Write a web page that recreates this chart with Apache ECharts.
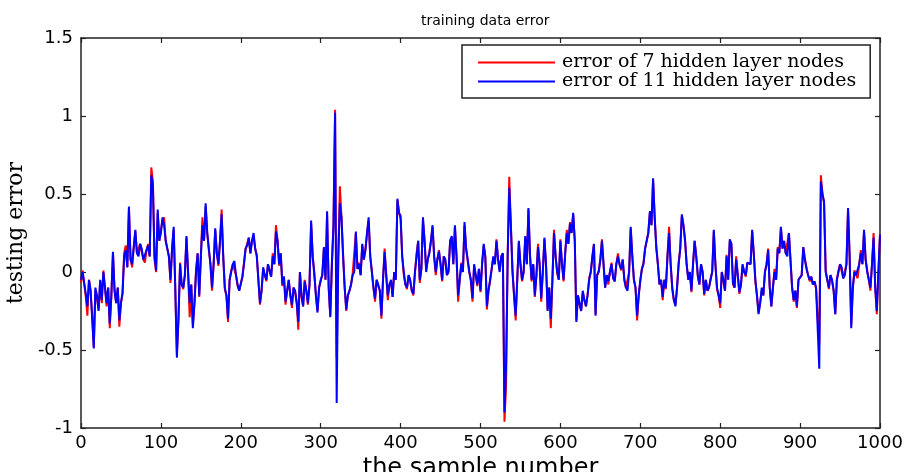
<!DOCTYPE html>
<html>
<head>
<meta charset="utf-8">
<script src="https://cdn.jsdelivr.net/npm/echarts@6/dist/echarts.min.js"></script>
<style>
html,body{margin:0;padding:0;background:#fff;}
#chart{width:909px;height:472px;}
</style>
</head>
<body>
<div id="chart"></div>
<script>
// sample numbers: every second sample, 0..1000
const sampleNo = Array.from({length: 501}, (_, i) => 2 * i);

// error of 11 hidden layer nodes (blue), values read at samples 0,2,4,...,1000
const err11 = [
-0.05,0.0,0.01,-0.14,-0.22,-0.05,-0.12,-0.3,-0.49,-0.1,
-0.15,-0.25,-0.05,-0.18,0.0,-0.1,-0.2,-0.1,-0.33,-0.15,
0.13,-0.12,-0.2,-0.1,-0.31,-0.2,-0.13,0.1,0.14,0.03,
0.42,0.08,0.05,0.16,0.27,0.12,0.1,0.18,0.15,0.08,
0.08,0.14,0.17,0.1,0.62,0.55,0.1,0.01,0.4,0.2,
0.25,0.35,0.3,0.2,0.2,0.1,-0.05,0.15,0.29,-0.1,
-0.55,-0.3,0.05,-0.08,-0.1,-0.02,0.23,0.0,-0.2,-0.08,
-0.36,-0.2,0.0,0.12,-0.15,0.1,0.3,0.2,0.44,0.25,
0.15,0.05,-0.1,0.05,0.28,0.12,0.05,0.2,0.37,0.1,
-0.1,-0.15,-0.3,-0.05,0.0,0.05,0.07,-0.02,-0.08,-0.12,
-0.12,-0.03,0.05,0.15,0.17,0.22,0.12,0.2,0.25,0.15,
0.1,-0.05,-0.2,-0.12,0.03,-0.02,-0.05,0.05,0.04,-0.03,
0.1,0.05,0.26,0.2,0.05,0.12,-0.08,-0.03,-0.19,-0.12,
-0.05,-0.15,-0.21,-0.1,-0.12,-0.2,-0.32,0.0,-0.15,-0.22,
-0.06,-0.12,-0.2,-0.08,0.33,0.1,-0.02,-0.15,-0.26,-0.1,
-0.05,-0.02,0.16,-0.05,0.39,-0.1,-0.29,0.05,0.3,1.02,
-0.84,0.1,0.44,0.35,0.1,-0.1,-0.24,-0.15,-0.12,-0.08,
-0.02,0.0,0.26,0.02,0.05,-0.02,0.18,0.08,0.14,0.25,
0.35,0.1,0.0,-0.1,-0.17,-0.05,-0.08,-0.12,-0.28,-0.05,
0.13,-0.02,-0.15,-0.08,-0.05,-0.16,0.0,-0.05,0.47,0.38,
0.36,0.1,0.0,-0.08,-0.1,-0.02,-0.05,-0.12,-0.14,0.0,
0.1,0.2,-0.05,0.02,0.35,0.2,0.0,0.08,0.12,0.2,
0.3,0.1,0.0,0.08,0.13,0.05,-0.05,0.1,0.08,-0.02,
0.0,0.2,0.23,0.05,0.3,0.1,-0.15,-0.05,0.05,0.0,
0.32,0.15,0.08,0.0,-0.05,-0.17,0.05,-0.02,-0.08,0.02,
-0.12,0.05,0.18,0.1,-0.22,-0.12,-0.05,0.02,0.1,0.05,
0.2,0.08,0.0,0.1,0.12,-0.9,-0.6,0.1,0.54,0.3,
0.0,-0.15,-0.28,-0.05,0.2,0.05,-0.05,0.0,0.23,0.05,
0.41,0.1,-0.05,0.05,-0.15,-0.02,0.16,0.05,-0.17,0.0,
0.22,0.05,-0.25,-0.1,-0.3,-0.05,0.25,0.1,0.0,-0.05,
0.2,0.05,-0.05,0.12,0.25,0.18,0.31,0.25,0.38,0.2,
-0.32,-0.15,-0.2,-0.25,-0.12,-0.18,-0.22,-0.15,-0.05,0.0,
0.1,0.18,-0.28,-0.02,0.0,0.08,0.2,0.05,-0.1,-0.02,
-0.06,0.0,0.05,-0.04,-0.06,0.05,0.1,0.05,0.02,0.08,
-0.05,-0.1,-0.12,0.0,0.29,0.1,-0.05,-0.1,-0.28,-0.15,
-0.05,0.02,0.05,0.15,0.16,0.25,0.39,0.3,0.6,0.35,
0.15,0.05,-0.08,-0.05,-0.16,-0.05,-0.1,0.1,0.25,0.05,
-0.1,-0.18,-0.22,-0.1,0.05,0.15,0.37,0.3,0.2,0.05,
-0.05,0.0,-0.12,0.05,0.2,0.1,-0.02,-0.08,0.05,0.0,
-0.14,-0.05,-0.12,-0.1,-0.05,0.0,0.27,0.05,-0.1,-0.15,
-0.2,0.0,-0.05,-0.12,0.1,-0.05,0.21,0.18,-0.07,-0.1,
0.08,-0.02,-0.13,-0.08,0.05,0.0,-0.02,0.06,0.07,0.05,
0.27,0.12,-0.05,-0.15,-0.27,-0.2,-0.1,-0.15,0.0,0.05,
0.14,-0.1,-0.22,-0.1,0.0,-0.05,0.15,0.12,0.29,0.15,
0.2,0.12,0.1,0.25,0.25,-0.1,-0.18,-0.12,-0.22,-0.05,
-0.04,-0.02,0.16,0.08,0.02,-0.02,-0.05,-0.03,-0.08,-0.06,
-0.1,-0.1,-0.62,0.58,0.5,0.45,0.0,-0.05,-0.1,-0.02,
-0.05,-0.12,-0.27,-0.05,0.0,0.05,0.03,-0.04,-0.02,0.05,
0.41,0.1,-0.36,-0.1,0.0,-0.02,-0.03,0.05,0.12,0.05,
0.27,0.08,0.0,-0.05,-0.1,0.05,0.22,-0.1,-0.25,0.0,
0.24];

// error of 7 hidden layer nodes (red), same samples
const err7 = [
-0.07,0.01,0.02,-0.16,-0.28,-0.05,-0.12,-0.28,-0.48,-0.12,
-0.17,-0.24,-0.06,-0.2,0.01,-0.1,-0.22,-0.1,-0.36,-0.15,
0.12,-0.12,-0.2,-0.1,-0.35,-0.2,-0.14,0.12,0.17,0.03,
0.41,0.08,0.03,0.16,0.26,0.12,0.12,0.18,0.13,0.08,
0.06,0.14,0.18,0.1,0.67,0.58,0.08,0.0,0.38,0.2,
0.27,0.33,0.35,0.2,0.19,0.1,-0.07,0.15,0.27,-0.12,
-0.52,-0.3,0.06,-0.08,-0.11,-0.02,0.22,0.0,-0.29,-0.08,
-0.34,-0.2,0.02,0.12,-0.16,0.1,0.35,0.2,0.42,0.25,
0.14,0.05,-0.12,0.05,0.27,0.12,0.04,0.2,0.4,0.1,
-0.11,-0.15,-0.32,-0.05,0.01,0.05,0.06,-0.02,-0.09,-0.12,
-0.12,-0.03,0.06,0.15,0.18,0.22,0.12,0.2,0.23,0.15,
0.11,-0.05,-0.21,-0.12,0.02,-0.02,-0.06,0.05,0.06,-0.03,
0.12,0.05,0.3,0.2,0.04,0.12,-0.09,-0.03,-0.21,-0.12,
-0.05,-0.15,-0.23,-0.1,-0.13,-0.2,-0.37,0.0,-0.16,-0.22,
-0.05,-0.12,-0.21,-0.08,0.31,0.1,0.0,-0.15,-0.25,-0.1,
-0.06,-0.02,0.15,-0.05,0.37,-0.1,-0.28,0.05,0.3,1.04,
-0.55,0.1,0.55,0.35,0.12,-0.1,-0.25,-0.15,-0.12,-0.08,
-0.01,0.0,0.25,0.02,0.06,-0.02,0.17,0.08,0.15,0.25,
0.33,0.1,0.01,-0.1,-0.19,-0.05,-0.09,-0.12,-0.3,-0.05,
0.15,-0.02,-0.18,-0.08,-0.06,-0.16,0.0,-0.05,0.46,0.38,
0.34,0.1,-0.02,-0.08,-0.11,-0.02,-0.06,-0.12,-0.15,0.0,
0.12,0.2,-0.07,0.02,0.33,0.2,0.02,0.08,0.13,0.2,
0.29,0.1,-0.02,0.08,0.14,0.05,-0.06,0.1,0.07,-0.02,
0.01,0.2,0.22,0.05,0.29,0.1,-0.19,-0.05,0.06,0.0,
0.3,0.15,0.07,0.0,-0.06,-0.19,0.04,-0.02,-0.09,0.02,
-0.13,0.05,0.17,0.1,-0.24,-0.12,-0.06,0.02,0.09,0.05,
0.21,0.08,0.01,0.1,0.12,-0.96,-0.73,0.1,0.61,0.3,
0.02,-0.15,-0.31,-0.05,0.19,0.05,-0.06,0.0,0.22,0.05,
0.4,0.1,-0.06,0.05,-0.16,-0.02,0.18,0.05,-0.19,0.0,
0.21,0.05,-0.24,-0.1,-0.36,-0.05,0.27,0.1,-0.01,-0.05,
0.21,0.05,-0.06,0.12,0.27,0.18,0.32,0.25,0.37,0.2,
-0.31,-0.15,-0.21,-0.25,-0.13,-0.18,-0.22,-0.15,-0.04,0.0,
0.09,0.18,-0.27,-0.02,0.01,0.08,0.21,0.05,-0.1,-0.02,
-0.08,0.0,0.06,-0.04,-0.06,0.05,0.12,0.05,0.01,0.08,
-0.05,-0.1,-0.11,0.0,0.28,0.1,-0.05,-0.1,-0.31,-0.15,
-0.06,0.02,0.06,0.15,0.15,0.25,0.38,0.3,0.59,0.35,
0.17,0.05,-0.08,-0.05,-0.18,-0.05,-0.11,0.1,0.29,0.05,
-0.11,-0.18,-0.21,-0.1,0.06,0.15,0.36,0.3,0.21,0.05,
-0.04,0.0,-0.13,0.05,0.2,0.1,-0.03,-0.08,0.05,0.0,
-0.15,-0.05,-0.12,-0.1,-0.04,0.0,0.26,0.05,-0.11,-0.15,
-0.23,0.0,-0.06,-0.12,0.11,-0.05,0.2,0.18,-0.08,-0.1,
0.1,-0.02,-0.14,-0.08,0.04,0.0,-0.03,0.06,0.07,0.05,
0.26,0.12,-0.06,-0.15,-0.26,-0.2,-0.12,-0.15,0.0,0.05,
0.15,-0.1,-0.22,-0.1,0.02,-0.05,0.16,0.12,0.28,0.15,
0.19,0.12,0.12,0.25,0.24,-0.1,-0.19,-0.12,-0.23,-0.05,
-0.05,-0.02,0.16,0.08,0.03,-0.02,-0.06,-0.03,-0.08,-0.06,
-0.11,-0.1,-0.47,0.62,0.5,0.44,0.01,-0.05,-0.11,-0.02,
-0.06,-0.12,-0.27,-0.05,0.01,0.05,0.04,-0.04,-0.03,0.05,
0.4,0.1,-0.34,-0.1,0.01,-0.02,-0.04,0.05,0.14,0.05,
0.26,0.08,0.01,-0.05,-0.12,0.05,0.25,-0.1,-0.27,0.0,
0.24];

const seriesNames = ['error of 7 hidden layer nodes', 'error of 11 hidden layer nodes'];

const chart = echarts.init(document.getElementById('chart'), null, {renderer: 'canvas'});

const frame = {lineStyle: {color: '#222', width: 1.5}};
const tickStyle = {show: true, inside: true, length: 5, lineStyle: {color: '#222', width: 1.2}};
const sans = 'DejaVu Sans';

chart.setOption({
  animation: false,
  backgroundColor: '#fff',
  title: {
    text: 'training data error',
    left: 416, top: 9,
    textStyle: {fontFamily: sans, fontSize: 14, fontWeight: 'normal', color: '#000'}
  },
  legend: {
    orient: 'vertical',
    left: 462, top: 45,
    padding: [8, 14, 7, 16],
    itemGap: 0,
    itemWidth: 77,
    itemHeight: 2,
    borderColor: '#222',
    borderWidth: 1.5,
    backgroundColor: '#fff',
    data: [{name: seriesNames[0], icon: 'rect'}, {name: seriesNames[1], icon: 'rect'}],
    textStyle: {fontFamily: 'DejaVu Serif', fontSize: 19, lineHeight: 17, color: '#000', padding: [0,0,0,2]}
  },
  grid: {left: 81, right: 29, top: 38, bottom: 44, containLabel: false, outerBoundsMode: 'none'},
  xAxis: [{
    type: 'value', min: 0, max: 1000, interval: 100, position: 'bottom',
    axisLine: {show: true, onZero: false, ...frame},
    axisTick: tickStyle,
    splitLine: {show: false},
    axisLabel: {color: '#000', fontFamily: sans, fontSize: 18, margin: 6, formatter: v => String(v)},
    name: 'the sample number', nameLocation: 'middle', nameGap: 25,
    nameTextStyle: {fontFamily: sans, fontSize: 24, color: '#000'}
  }, {
    type: 'value', min: 0, max: 1000, interval: 100, position: 'top',
    axisLine: {show: true, onZero: false, ...frame},
    axisTick: tickStyle,
    splitLine: {show: false},
    axisLabel: {show: false}
  }],
  yAxis: [{
    type: 'value', min: -1, max: 1.5, interval: 0.5, position: 'left',
    axisLine: {show: true, onZero: false, ...frame},
    axisTick: tickStyle,
    splitLine: {show: false},
    axisLabel: {color: '#000', fontFamily: sans, fontSize: 18, margin: 8},
    name: 'testing error', nameLocation: 'middle', nameGap: 50,
    nameTextStyle: {fontFamily: 'DejaVu Serif', fontSize: 22, color: '#000'}
  }, {
    type: 'value', min: -1, max: 1.5, interval: 0.5, position: 'right',
    axisLine: {show: true, onZero: false, ...frame},
    axisTick: tickStyle,
    splitLine: {show: false},
    axisLabel: {show: false}
  }],
  series: [{
    name: seriesNames[0], type: 'line', showSymbol: false,
    xAxisIndex: 0, yAxisIndex: 0,
    color: '#ff0000',
    lineStyle: {color: '#ff0000', width: 2},
    data: sampleNo.map((s, i) => [s, err7[i]]),
    z: 2
  }, {
    name: seriesNames[1], type: 'line', showSymbol: false,
    xAxisIndex: 0, yAxisIndex: 0,
    color: '#0000ff',
    lineStyle: {color: '#0000ff', width: 2},
    data: sampleNo.map((s, i) => [s, err11[i]]),
    z: 3
  }]
});
</script>
</body>
</html>
